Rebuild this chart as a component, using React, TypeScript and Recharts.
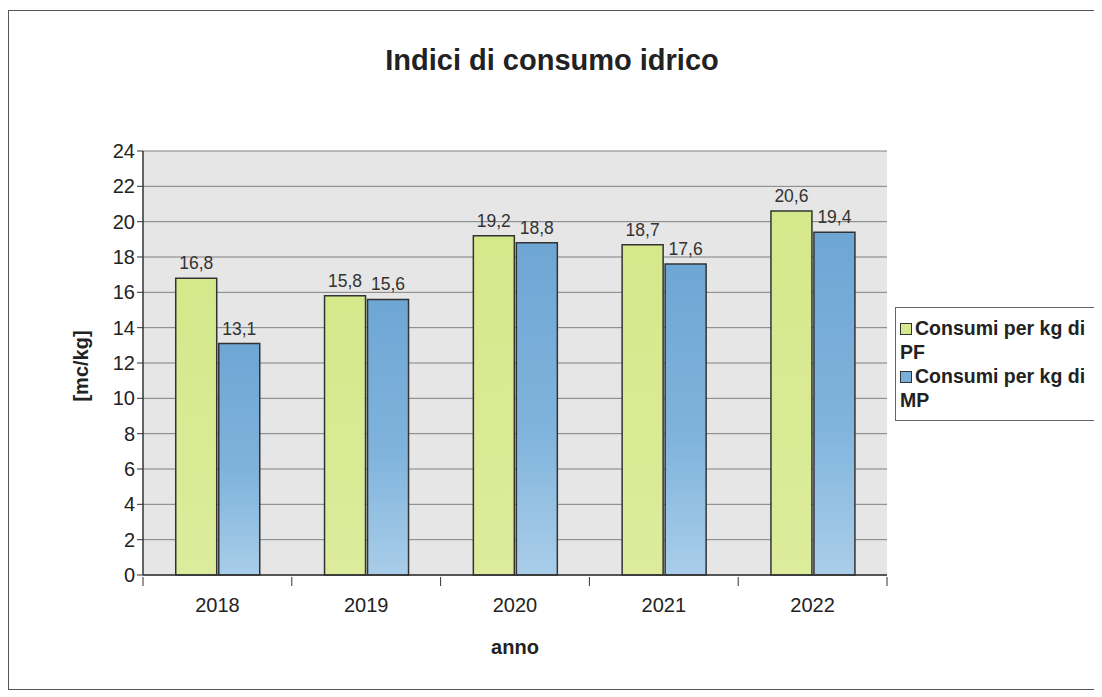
import { BarChart, Bar, XAxis, YAxis, CartesianGrid, LabelList } from "recharts";

const years = ["2018", "2019", "2020", "2021", "2022"];
const perKgPF = [16.8, 15.8, 19.2, 18.7, 20.6];
const perKgMP = [13.1, 15.6, 18.8, 17.6, 19.4];
const yTicks = [0, 2, 4, 6, 8, 10, 12, 14, 16, 18, 20, 22, 24];
const legendItems = [
  { color: "#d7e98e", line1: "Consumi per kg di", line2: "PF" },
  { color: "#7aafd9", line1: "Consumi per kg di", line2: "MP" },
];

const data = years.map((anno, i) => ({ anno, pf: perKgPF[i], mp: perKgMP[i] }));

const fmt = (v: any) => String(v).replace(".", ",");

// Excel-style tick: label at centre, tick marks on the category boundaries
const YearTick = (props: any) => {
  const { x, y, payload, index } = props;
  const half = payload?.offset || 74.4;
  return (
    <g>
      <line x1={x - half} y1={y - 6} x2={x - half} y2={y + 3} stroke="#333" />
      {index === years.length - 1 && (
        <line x1={x + half} y1={y - 6} x2={x + half} y2={y + 3} stroke="#333" />
      )}
      <text x={x} y={y + 29} textAnchor="middle" fontSize={20} fill="#222">
        {payload.value}
      </text>
    </g>
  );
};

const LegendBox = () => (
  <div
    style={{
      position: "absolute",
      left: 886,
      top: 296,
      border: "1.5px solid #666",
      background: "#fff",
      padding: "8px 2px 8px 4px",
      width: 196,
      fontWeight: "bold",
      fontSize: 19.5,
      lineHeight: "24px",
      color: "#222",
      whiteSpace: "nowrap",
    }}
  >
    {legendItems.map((it) => (
      <div key={it.line2}>
        <span
          style={{
            display: "inline-block",
            width: 10,
            height: 10,
            background: it.color,
            border: "1px solid #333",
            marginRight: 3,
          }}
        />
        {it.line1}
        <br />
        {it.line2}
      </div>
    ))}
  </div>
);

export default function App() {
  return (
    <div
      style={{
        position: "relative",
        width: 1086,
        height: 678,
        border: "1px solid #555",
        marginTop: 2,
        background: "#fff",
        fontFamily: "Arial, 'Liberation Sans', sans-serif",
      }}
    >
      <div
        style={{
          position: "absolute",
          top: 33,
          width: "100%",
          textAlign: "center",
          fontSize: 29,
          fontWeight: "bold",
          color: "#222",
        }}
      >
        Indici di consumo idrico
      </div>
      <div
        style={{
          position: "absolute",
          left: 72,
          top: 355,
          transform: "translate(-50%, -50%) rotate(-90deg)",
          fontSize: 20,
          fontWeight: "bold",
          color: "#222",
        }}
      >
        [mc/kg]
      </div>
      <div
        style={{
          position: "absolute",
          top: 625,
          left: 134,
          width: 744,
          textAlign: "center",
          fontSize: 20,
          fontWeight: "bold",
          color: "#222",
        }}
      >
        anno
      </div>
      <BarChart
        width={1086}
        height={678}
        data={data}
        margin={{ top: 140, right: 208, bottom: 76, left: 70 }}
        barCategoryGap="22%"
        barGap={2}
      >
        <defs>
          <linearGradient id="gradMP" x1="0" y1="0" x2="0" y2="1">
            <stop offset="0%" stopColor="#6ea6d4" />
            <stop offset="55%" stopColor="#7fb3dc" />
            <stop offset="100%" stopColor="#a9cde9" />
          </linearGradient>
          <linearGradient id="gradPF" x1="0" y1="0" x2="0" y2="1">
            <stop offset="0%" stopColor="#d5e88a" />
            <stop offset="100%" stopColor="#dcec9c" />
          </linearGradient>
        </defs>
        <CartesianGrid vertical={false} stroke="#808080" fill="#e6e6e6" />
        <XAxis
          dataKey="anno"
          axisLine={{ stroke: "#333", strokeWidth: 1.5 }}
          tickLine={false}
          tickSize={6}
          tick={<YearTick />}
          height={38}
          interval={0}
        />
        <YAxis
          domain={[0, 24]}
          ticks={yTicks}
          width={64}
          axisLine={{ stroke: "#333", strokeWidth: 1.5 }}
          tickLine={{ stroke: "#333" }}
          tickSize={6}
          tick={{ fontSize: 20, fill: "#222" }}
          interval={0}
        />
        <YAxis
          yAxisId="r"
          orientation="right"
          domain={[0, 24]}
          tick={false}
          tickLine={false}
          axisLine={{ stroke: "#888" }}
          width={0}
        />
        <Bar dataKey="pf" name="Consumi per kg di PF" fill="url(#gradPF)" stroke="#333" strokeWidth={1.5} isAnimationActive={false}>
          <LabelList dataKey="pf" position="top" offset={9} formatter={fmt} style={{ fontSize: 17.5, fill: "#333" }} />
        </Bar>
        <Bar dataKey="mp" name="Consumi per kg di MP" fill="url(#gradMP)" stroke="#333" strokeWidth={1.5} isAnimationActive={false}>
          <LabelList dataKey="mp" position="top" offset={9} formatter={fmt} style={{ fontSize: 17.5, fill: "#333" }} />
        </Bar>
      </BarChart>
      <LegendBox />
    </div>
  );
}
